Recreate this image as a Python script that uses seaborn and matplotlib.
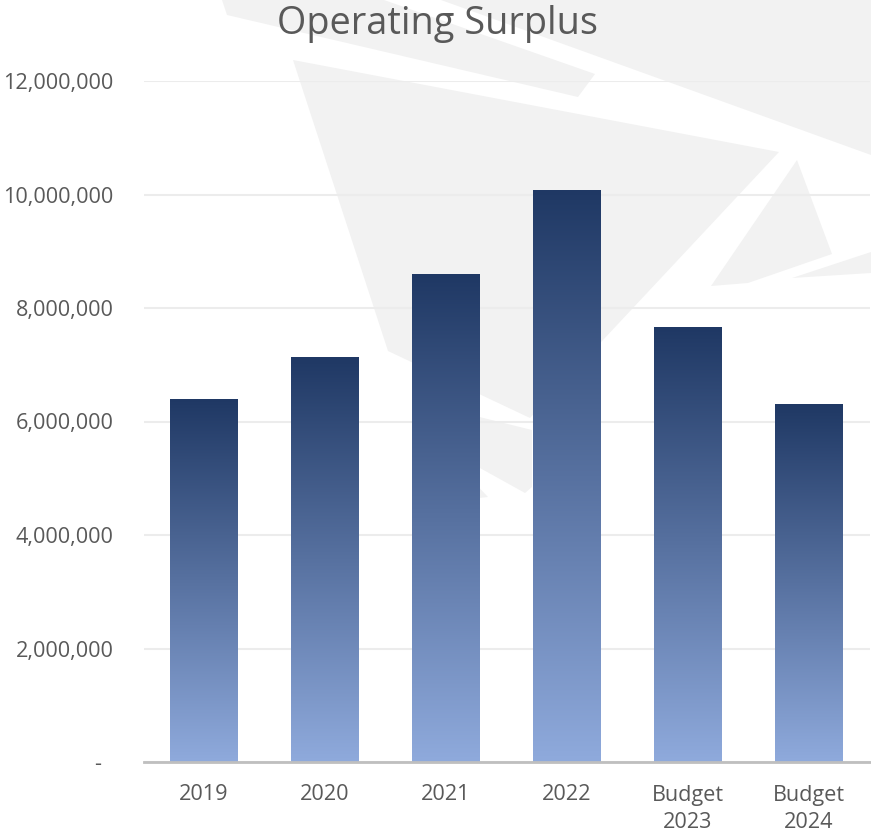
import numpy as np
import pandas as pd
import matplotlib
matplotlib.use("Agg")
import matplotlib.pyplot as plt
import seaborn as sns
from matplotlib.colors import LinearSegmentedColormap
from matplotlib.patches import Polygon
from matplotlib.ticker import FuncFormatter, FixedLocator

# ---- data -------------------------------------------------------------
periods = ["2019", "2020", "2021", "2022", "Budget\n2023", "Budget\n2024"]
surplus = [6_400_000, 7_140_000, 8_600_000, 10_080_000, 7_665_000, 6_310_000]
y_ticks = [0, 2_000_000, 4_000_000, 6_000_000, 8_000_000, 10_000_000, 12_000_000]
title = "Operating Surplus"

df = pd.DataFrame({"period": periods, "surplus": surplus})

# ---- style --------------------------------------------------------------
sns.set_theme(style="white")
plt.rcParams["font.family"] = ["Open Sans", "DejaVu Sans"]
TEXT = "#595959"
BAR_TOP = "#1f3864"
BAR_BOTTOM = "#8faadc"

W, H = 871, 836
fig = plt.figure(figsize=(W / 100, H / 100), dpi=100)
fig.patch.set_facecolor("white")

# ---- faint watermark shapes behind the chart (pixel space) --------------
bg = fig.add_axes([0, 0, 1, 1], zorder=0)
bg.set_xlim(0, W)
bg.set_ylim(H, 0)
bg.axis("off")
watermark = [
    [(222, 0), (227, 15), (578, 97), (595, 74), (384, 0)],
    [(441, 0), (871, 155), (871, 0)],
    [(293, 60), (779, 152), (530, 418), (388, 351)],
    [(415, 401), (532, 430), (532, 487), (525, 493), (415, 432)],
    [(470, 478), (488, 497), (470, 499)],
    [(797, 160), (832, 254), (748, 283), (711, 286)],
    [(871, 252), (792, 278), (871, 273)],
]
for pts in watermark:
    bg.add_patch(Polygon(pts, closed=True, facecolor="#f2f2f2", edgecolor="none"))

# ---- main chart ----------------------------------------------------------
ax = fig.add_axes([143.5 / W, (H - 762) / H, 726 / W, 681 / H], zorder=1)
ax.patch.set_alpha(0)

sns.barplot(data=df, x="period", y="surplus", width=0.56, color=BAR_TOP,
            ax=ax, zorder=2)

# vertical gradient fill, dark at each bar's top and light at its base
cmap = LinearSegmentedColormap.from_list("surplus_grad", [BAR_BOTTOM, BAR_TOP])
grad = np.linspace(0, 1, 256).reshape(-1, 1)
for bar in list(ax.patches):
    x0, y0 = bar.get_x(), bar.get_y()
    w, h = bar.get_width(), bar.get_height()
    im = ax.imshow(grad, extent=[x0, x0 + w, y0, y0 + h], origin="lower",
                   aspect="auto", cmap=cmap, zorder=2.5, interpolation="bilinear")
    im.set_clip_path(bar)
    bar.set_facecolor("none")
    bar.set_edgecolor("none")

ax.set_xlim(-0.5, len(periods) - 0.5)
ax.set_ylim(0, 12_000_000)

ax.yaxis.set_major_locator(FixedLocator(y_ticks))
ax.yaxis.set_major_formatter(
    FuncFormatter(lambda v, _: "-  " if v == 0 else f"{v:,.0f}"))
ax.yaxis.grid(True, color="#ececec", linewidth=1.5)
ax.xaxis.grid(False)
ax.set_axisbelow(True)

for side in ("left", "right", "top"):
    ax.spines[side].set_visible(False)
ax.spines["bottom"].set_color("#bfbfbf")
ax.spines["bottom"].set_linewidth(2)
ax.spines["bottom"].set_zorder(3)

ax.tick_params(axis="y", length=0, pad=21.6, labelsize=15.6, labelcolor=TEXT)
ax.tick_params(axis="x", length=0, pad=16.2, labelsize=15.6, labelcolor=TEXT)
for lab in ax.get_xticklabels():
    lab.set_linespacing(1.39)

ax.set_xlabel("")
ax.set_ylabel("")

fig.text(437.5 / W, 1 - 24 / H, title, ha="center", va="center",
         fontsize=27.3, color=TEXT)

fig.savefig("out.png", dpi=100, facecolor="white")
